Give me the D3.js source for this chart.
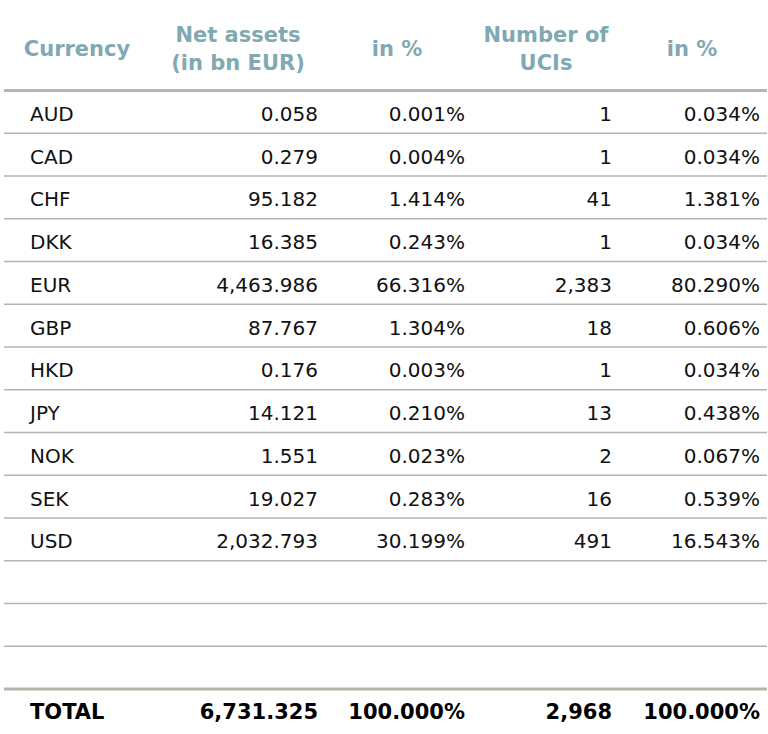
<!DOCTYPE html>
<html lang="en">

<head>
  <meta charset="UTF-8">
  <title>Net assets by currency</title>
  <style>
    * {
      box-sizing: border-box;
    }

    html,
    body {
      margin: 0;
      padding: 0;
      background: #fff;
    }

    #main {
      width: 768px;
      height: 734px;
    }

    text {
      font-family: "DejaVu Sans", Verdana, sans-serif;
    }
  </style>
</head>

<body>
  <div id="main"></div>
  <script src="https://d3js.org/d3.v7.min.js"></script>
  <script>
    // 1. data
    const headers = [
      ['Currency'],
      ['Net assets', '(in bn EUR)'],
      ['in %'],
      ['Number of', 'UCIs'],
      ['in %']
    ]
    const currencies = ['AUD', 'CAD', 'CHF', 'DKK', 'EUR', 'GBP', 'HKD', 'JPY', 'NOK', 'SEK', 'USD']
    const netAssets = ['0.058', '0.279', '95.182', '16.385', '4,463.986', '87.767', '0.176', '14.121', '1.551', '19.027', '2,032.793']
    const netAssetsPct = ['0.001%', '0.004%', '1.414%', '0.243%', '66.316%', '1.304%', '0.003%', '0.210%', '0.023%', '0.283%', '30.199%']
    const ucis = ['1', '1', '41', '1', '2,383', '18', '1', '13', '2', '16', '491']
    const ucisPct = ['0.034%', '0.034%', '1.381%', '0.034%', '80.290%', '0.606%', '0.034%', '0.438%', '0.067%', '0.539%', '16.543%']
    const totals = ['TOTAL', '6,731.325', '100.000%', '2,968', '100.000%']
    const emptyRows = 3

    // 2. container
    const [width, height] = [768, 734]
    const svg = d3.select('#main').append('svg')
      .attr('width', width)
      .attr('height', height)
      .attr('viewBox', `0 0 ${width} ${height}`)

    // 3. scales
    const nRows = currencies.length + emptyRows
    const yScale = d3.scaleBand()
      .domain(d3.range(nRows))
      .range([90.5, 689])

    // column text positions (x = value anchor, hx = header centre)
    const cols = [
      { anchor: 'start', x: 30, hx: 77 },
      { anchor: 'end', x: 318, hx: 238 },
      { anchor: 'end', x: 465, hx: 397 },
      { anchor: 'end', x: 612, hx: 546 },
      { anchor: 'end', x: 760, hx: 692 }
    ]
    const lineX = [4, 767]

    const fontSize = 20
    const headSize = 21
    const headColor = '#80a9b1'
    const lineColor = '#bab3ab'

    // 4. header
    const head = svg.append('g')
    headers.forEach((lines, i) => {
      const t = head.append('text')
        .attr('x', cols[i].hx)
        .attr('text-anchor', 'middle')
        .attr('font-size', headSize)
        .attr('font-weight', 'bold')
        .attr('fill', headColor)
      if (lines.length === 1) {
        t.attr('y', 56).text(lines[0])
      } else {
        lines.forEach((l, j) => {
          t.append('tspan').attr('x', cols[i].hx).attr('y', 42 + j * 28).text(l)
        })
      }
    })

    // 5. rows
    const rows = currencies.map((c, i) => [c, netAssets[i], netAssetsPct[i], ucis[i], ucisPct[i]])
    const body = svg.append('g')
    rows.forEach((r, i) => {
      const yc = yScale(i) + yScale.bandwidth() / 2
      r.forEach((v, j) => {
        body.append('text')
          .attr('x', cols[j].x)
          .attr('y', yc + 9)
          .attr('text-anchor', cols[j].anchor)
          .attr('font-size', fontSize)
          .attr('fill', '#111')
          .text(v)
      })
    })

    // 6. grid lines
    const grid = svg.append('g')
    d3.range(1, nRows).forEach(i => {
      grid.append('line')
        .attr('x1', lineX[0]).attr('x2', lineX[1])
        .attr('y1', yScale(i)).attr('y2', yScale(i))
        .attr('stroke', lineColor)
        .attr('stroke-width', 1.5)
    })
    // thick header / total lines
    ;[yScale(0), yScale(nRows - 1) + yScale.bandwidth()].forEach(y => {
      grid.append('line')
        .attr('x1', lineX[0]).attr('x2', lineX[1])
        .attr('y1', y).attr('y2', y)
        .attr('stroke', lineColor)
        .attr('stroke-width', 3)
    })

    // 7. total row
    totals.forEach((v, j) => {
      svg.append('text')
        .attr('x', cols[j].x)
        .attr('y', 719)
        .attr('text-anchor', cols[j].anchor)
        .attr('font-size', headSize)
        .attr('font-weight', 'bold')
        .attr('fill', '#000')
        .text(v)
    })
  </script>
</body>

</html>
